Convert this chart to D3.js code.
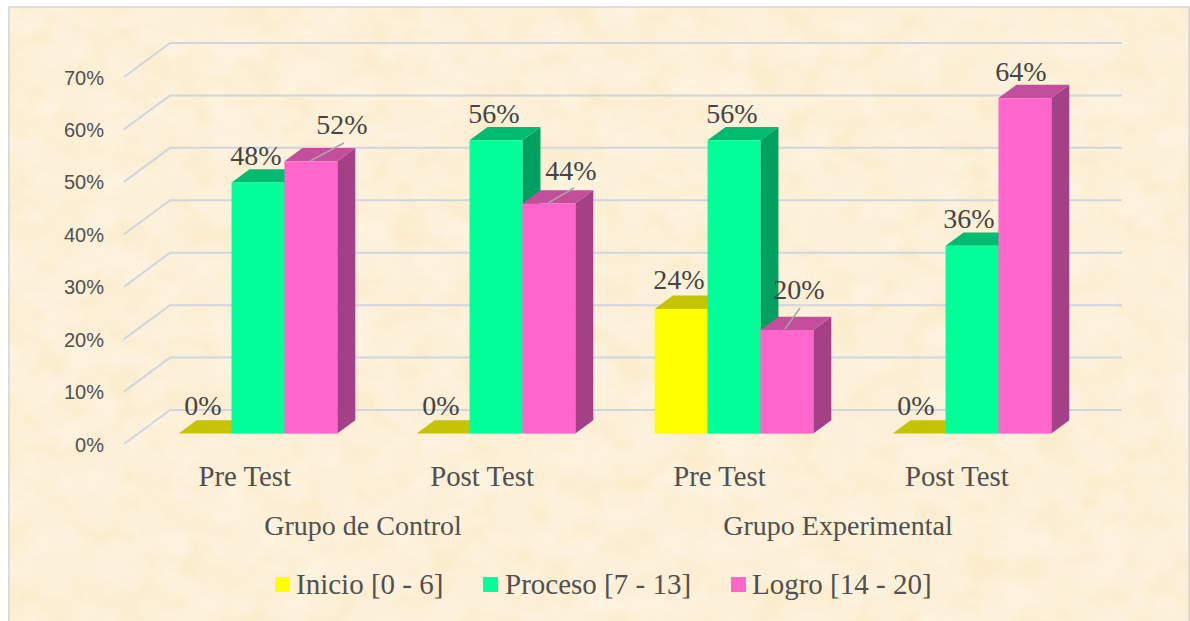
<!DOCTYPE html>
<html><head><meta charset="utf-8">
<script src="https://cdn.jsdelivr.net/npm/d3@7"></script>
<style>html,body{margin:0;padding:0;background:#fff}svg{display:block}</style>
</head><body><div id="c"></div>
<script>
const groups=["Pre Test","Post Test","Pre Test","Post Test"];
const outerGroups=["Grupo de Control","Grupo Experimental"];
const seriesNames=["Inicio [0 - 6]","Proceso [7 - 13]","Logro [14 - 20]"];
const inicio=[0,0,24,0];
const proceso=[48,56,56,36];
const logro=[52,44,20,64];
const ticks=[0,10,20,30,40,50,60,70];
const colors=[["#FFFF00","#C4C400","#A8A800"],["#00FF99","#00BB70","#00A060"],["#FF66CC","#C24E9C","#A44085"]];
const W=1190,H=621;
const svg=d3.select("#c").append("svg").attr("width",W).attr("height",H);
const defs=svg.append("defs");
function noise(id,seed,freq,matrix){
 const f=defs.append("filter").attr("id",id).attr("x",0).attr("y",0).attr("width","100%").attr("height","100%").attr("color-interpolation-filters","sRGB");
 f.append("feTurbulence").attr("type","fractalNoise").attr("baseFrequency",freq).attr("numOctaves",4).attr("seed",seed);
 f.append("feColorMatrix").attr("values",matrix);
}
noise("texD",7,"0.028 0.036","0 0 0 0 0.97  0 0 0 0 0.87  0 0 0 0 0.62  3.2 0 0 0 -1.45");
noise("texL",23,"0.024 0.032","0 0 0 0 1  0 0 0 0 0.97  0 0 0 0 0.92  0 3.2 0 0 -1.4");
svg.append("rect").attr("width",W).attr("height",H).attr("fill","#fff");
svg.append("rect").attr("x",9).attr("y",7).attr("width",W-10).attr("height",H).attr("fill","#FCF0D8").attr("stroke","#DCDCDC").attr("stroke-width",2);
svg.append("rect").attr("x",10).attr("y",8).attr("width",W-12).attr("height",H-8).attr("filter","url(#texD)").attr("opacity",.2);
svg.append("rect").attr("x",10).attr("y",8).attr("width",W-12).attr("height",H-8).attr("filter","url(#texL)").attr("opacity",.4);

const y=d3.scaleLinear().domain([0,70]).range([444,77]);
const barY=d3.scaleLinear().domain([0,70]).range([435.4,66.5]);
const base=433.6;
const x0=d3.scaleBand().domain(d3.range(4)).range([125.7,1077.7]);
const xLabel=d3.scaleBand().domain(d3.range(4)).range([126,1075.6]);
const x1=d3.scaleBand().domain(d3.range(3)).range([0,158.6]);
const DW=[46,-34], DB=[18,-13.3];
const g=svg.append("g");
ticks.forEach(t=>{
 const yy=y(t);
 g.append("path").attr("d",`M124,${yy}L${124+DW[0]},${yy+DW[1]}H1122`).attr("fill","none").attr("stroke","#D0D5DF").attr("stroke-width",2);
});
g.selectAll(".yt").data(ticks).join("text").attr("x",104).attr("y",d=>y(d)+7.5).attr("text-anchor","end")
 .attr("font-family","Liberation Sans").attr("font-size",20).attr("fill","#505050").text(d=>d+"%");

const all=[inicio,proceso,logro];
const labelFont="Liberation Serif";
const marks=g.append("g"), labels=g.append("g");
groups.forEach((_,i)=>{
 all.forEach((vals,s)=>{
  const v=vals[i];
  const x=x0(i)+53+x1(s), w=x1.bandwidth();
  const yb=base, yt=v===0?base:barY(v);
  if(v===0){
    marks.append("path").attr("d",`M${x},${yb}h${w}l${DB[0]},${DB[1]}h${-w}z`).attr("fill",colors[s][1]);
    return;
  }
  marks.append("path").attr("d",`M${x+w},${yb}v${yt-yb}l${DB[0]},${DB[1]}v${yb-yt}z`).attr("fill",colors[s][2]);
  marks.append("path").attr("d",`M${x},${yt}h${w}l${DB[0]},${DB[1]}h${-w}z`).attr("fill",colors[s][1]);
  marks.append("rect").attr("x",x).attr("y",yt).attr("width",w).attr("height",yb-yt).attr("fill",colors[s][0]);
 });
});
const lab=[
 [0,0,203,415],[0,1,256,165],[0,2,342,134],
 [1,0,441,415],[1,1,494,123],[1,2,571,180],
 [2,0,679,289],[2,1,732,123],[2,2,799,299],
 [3,0,916,415],[3,1,969,228],[3,2,1021,81]];
lab.forEach(([i,s,lx,ly])=>{
 labels.append("text").attr("x",lx).attr("y",ly).attr("text-anchor","middle").attr("font-family",labelFont)
 .attr("font-size",28).attr("fill","#454545").text(all[s][i]+"%");
});
[[310,161,344,143],[548,203,574,188],[785,329,800,308]].forEach(c=>{
 labels.append("line").attr("x1",c[0]).attr("y1",c[1]).attr("x2",c[2]).attr("y2",c[3]).attr("stroke","#A6A6A6").attr("stroke-width",1.5);
});
g.selectAll(".gl").data(groups).join("text").attr("x",(d,i)=>xLabel(i)+xLabel.bandwidth()/2).attr("y",486).attr("text-anchor","middle")
 .attr("font-family",labelFont).attr("font-size",28.8).attr("fill","#505050").text(d=>d);
g.selectAll(".ol").data(outerGroups).join("text").attr("x",(d,i)=>[363,838][i]).attr("y",535).attr("text-anchor","middle")
 .attr("font-family",labelFont).attr("font-size",28).attr("fill","#505050").text(d=>d);
const lx=[275,483,731], tx=[296,505,752];
seriesNames.forEach((n,i)=>{
 g.append("rect").attr("x",lx[i]).attr("y",577).attr("width",15).attr("height",15).attr("fill",colors[i][0]);
 g.append("text").attr("x",tx[i]).attr("y",594).attr("font-family",labelFont).attr("font-size",29).attr("fill","#505050").text(n);
});
</script></body></html>
